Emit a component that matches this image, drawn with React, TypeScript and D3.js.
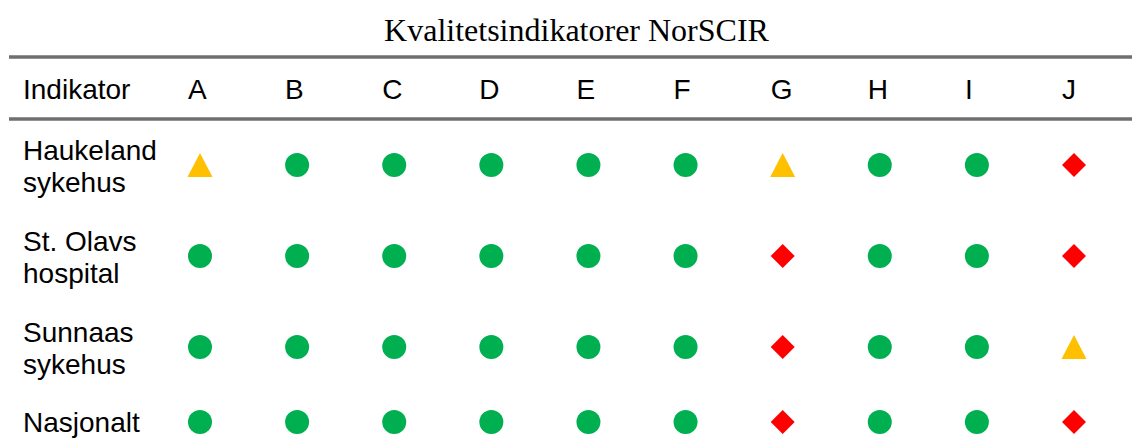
import React from "react";
import * as d3 from "d3";

const title = "Kvalitetsindikatorer NorSCIR";
const headerLabel = "Indikator";
const indicators = ["A", "B", "C", "D", "E", "F", "G", "H", "I", "J"];
const units = [
  ["Haukeland", "sykehus"],
  ["St. Olavs", "hospital"],
  ["Sunnaas", "sykehus"],
  ["Nasjonalt"],
];
// H = høy måloppnåelse (grønn), M = moderat (gul), L = lav (rød)
const haukeland = ["M", "H", "H", "H", "H", "H", "M", "H", "H", "L"];
const stOlavs = ["H", "H", "H", "H", "H", "H", "L", "H", "H", "L"];
const sunnaas = ["H", "H", "H", "H", "H", "H", "L", "H", "H", "M"];
const nasjonalt = ["H", "H", "H", "H", "H", "H", "L", "H", "H", "L"];
const levels = ["H", "M", "L"];
const levelColors = ["#00B050", "#FFC000", "#FF0000"];

const W = 1132;
const H = 447;
const SANS = "'Liberation Sans', Arial, sans-serif";
const SERIF = "'Liberation Serif', 'Times New Roman', serif";

export default function App() {
  const rows = [haukeland, stOlavs, sunnaas, nasjonalt];
  const x = d3.scalePoint<string>().domain(indicators).range([188, 1062]);
  const color = d3.scaleOrdinal<string, string>().domain(levels).range(levelColors);

  const lineH = 32;
  const pad = 13.5;
  const top = 119.5;
  const heights = units.map((u) => u.length * lineH + 2 * pad);
  const centers: number[] = [];
  let acc = top;
  heights.forEach((h) => {
    centers.push(acc + h / 2);
    acc += h;
  });

  const circlePath = d3.symbol().type(d3.symbolCircle).size(Math.PI * 12 * 12)()!;
  const tri = d3.path();
  tri.moveTo(0, -12);
  tri.lineTo(12.5, 12);
  tri.lineTo(-12.5, 12);
  tri.closePath();
  const dia = d3.path();
  dia.moveTo(0, -12);
  dia.lineTo(12, 0);
  dia.lineTo(0, 12);
  dia.lineTo(-12, 0);
  dia.closePath();
  const shape = (v: string) => (v === "H" ? circlePath : v === "M" ? tri.toString() : dia.toString());

  return (
    <svg
      width={W}
      height={H}
      style={{ position: "absolute", left: 0, top: 0, display: "block", background: "#fff" }}
    >
      <text x={576.5} y={41} textAnchor="middle" fontFamily={SERIF} fontSize={32} fill="#000">
        {title}
      </text>
      <line x1={9} x2={W} y1={57} y2={57} stroke="#6f6f6f" strokeWidth={3.5} />
      <line x1={9} x2={W} y1={119} y2={119} stroke="#6f6f6f" strokeWidth={3.5} />
      <text x={23} y={99} fontFamily={SANS} fontSize={28} fill="#000">
        {headerLabel}
      </text>
      {indicators.map((c) => (
        <text key={c} x={x(c)} y={99} fontFamily={SANS} fontSize={28} fill="#000">
          {c}
        </text>
      ))}
      {units.map((u, i) => {
        const cy = centers[i];
        const first = u.length === 1 ? cy + 10 : cy - 5;
        return (
          <g key={i}>
            <text x={23} fontFamily={SANS} fontSize={28} fill="#000">
              {u.map((line, j) => (
                <tspan key={j} x={23} y={first + j * lineH}>
                  {line}
                </tspan>
              ))}
            </text>
            {rows[i].map((v, k) => (
              <path
                key={k}
                d={shape(v)}
                transform={`translate(${(x(indicators[k]) as number) + 12},${cy})`}
                fill={color(v)}
              />
            ))}
          </g>
        );
      })}
    </svg>
  );
}
